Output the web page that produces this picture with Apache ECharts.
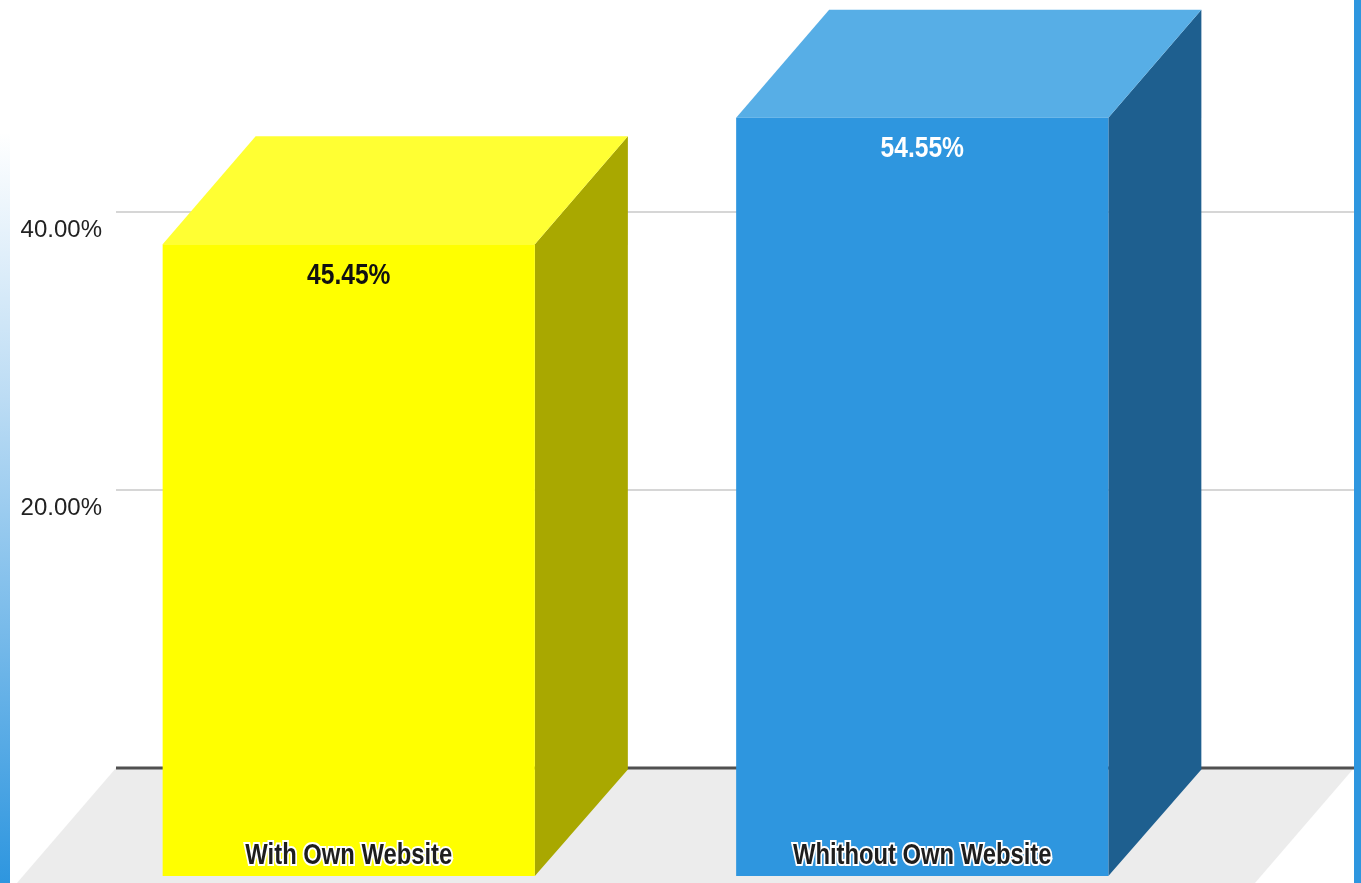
<!DOCTYPE html>
<html>
<head>
<meta charset="utf-8">
<title>Own website share</title>
<script src="https://cdn.jsdelivr.net/npm/echarts@6/dist/echarts.min.js"></script>
<style>
  html, body { margin: 0; padding: 0; background: #ffffff; }
  #chart { width: 1361px; height: 883px; }
</style>
</head>
<body>
<div id="chart"></div>
<script>
// Categories and their shares (percent)
const categories = ['With Own Website', 'Whithout Own Website'];
const shares = [45.45, 54.55];

// Value axis settings
const axisMin = 0;
const axisMax = 55;
const axisStep = 20;

// Face colours of each bar: front, top, side
const barColors = [
  { front: '#ffff00', top: '#ffff33', side: '#a9a800', label: '#111111' },
  { front: '#2e96df', top: '#57aee6', side: '#1e5f8f', label: '#ffffff' }
];

// Depth of the extruded bars (screen pixels): shift of the front face
const DEPTH_X = -93;
const DEPTH_Y = 108;
// Horizontal squeeze that gives the condensed lettering
const CONDENSE = 0.82;

const sans = "'Liberation Sans', Arial, sans-serif";

const chart = echarts.init(document.getElementById('chart'), null, { renderer: 'canvas' });

function fmtPct(v) { return v.toFixed(2) + '%'; }

// Floor of the back wall, extruded toward the viewer, plus the zero line along its back edge
function renderFloor(params, api) {
  const cs = params.coordSys;
  const yBase = api.coord([0, 0])[1];
  const k = 1.15;
  return {
    type: 'group',
    children: [
      {
        type: 'polygon',
        shape: {
          points: [
            [cs.x, yBase],
            [cs.x + cs.width, yBase],
            [cs.x + cs.width + DEPTH_X * k, yBase + DEPTH_Y * k],
            [cs.x + DEPTH_X * k, yBase + DEPTH_Y * k]
          ]
        },
        style: { fill: '#ececec' }
      },
      {
        type: 'line',
        shape: { x1: cs.x, y1: yBase, x2: cs.x + cs.width, y2: yBase },
        style: { stroke: '#505050', lineWidth: 3 }
      }
    ]
  };
}

// One extruded bar: back face sits on the axis plane, front face is shifted by the depth
function renderBar(params, api) {
  const idx = api.value(0);
  const val = api.value(1);
  const top = api.coord([idx, val]);
  const base = api.coord([idx, 0]);
  const w = api.size([1, 0])[0] * 0.649;
  const bx0 = top[0] - w / 2, bx1 = top[0] + w / 2;
  const by0 = top[1], by1 = base[1];
  const fx0 = bx0 + DEPTH_X, fx1 = bx1 + DEPTH_X;
  const fy0 = by0 + DEPTH_Y, fy1 = by1 + DEPTH_Y;
  const c = barColors[params.dataIndex];
  const fcx = (fx0 + fx1) / 2;
  return {
    type: 'group',
    children: [
      {
        type: 'polygon',
        shape: { points: [[fx1, fy0], [bx1, by0], [bx1, by1 + 1.5], [fx1, fy1]] },
        style: { fill: c.side }
      },
      {
        type: 'polygon',
        shape: { points: [[fx0, fy0], [fx1, fy0], [bx1, by0], [bx0, by0]] },
        style: { fill: c.top }
      },
      {
        type: 'rect',
        shape: { x: fx0, y: fy0, width: fx1 - fx0, height: fy1 - fy0 },
        style: { fill: c.front }
      },
      {
        type: 'text',
        x: fcx, y: fy0 + 31,
        scaleX: CONDENSE,
        style: {
          text: fmtPct(val),
          fill: c.label,
          font: 'bold 30px ' + sans,
          align: 'center',
          verticalAlign: 'middle'
        }
      },
      {
        type: 'text',
        x: fcx, y: fy1 - 20,
        scaleX: CONDENSE,
        style: {
          text: categories[idx],
          fill: '#1e1e1e',
          font: 'bold 29px ' + sans,
          align: 'center',
          verticalAlign: 'middle',
          stroke: '#ffffff',
          lineWidth: 4,
          shadowColor: 'rgba(255,255,255,0.9)',
          shadowBlur: 5
        }
      }
    ]
  };
}

const option = {
  animation: false,
  backgroundColor: '#ffffff',
  graphic: [
    {
      type: 'rect',
      left: 0, top: 0,
      shape: { width: 10, height: 883 },
      style: {
        fill: new echarts.graphic.LinearGradient(0, 0, 0, 1, [
          { offset: 0, color: '#ffffff' },
          { offset: 0.15, color: '#ffffff' },
          { offset: 0.45, color: '#bcdcf4' },
          { offset: 1, color: '#2e96df' }
        ])
      },
      z: 10
    },
    {
      type: 'rect',
      right: 0, top: 0,
      shape: { width: 7, height: 883 },
      style: { fill: '#2e96df' },
      z: 10
    }
  ],
  grid: [
    // back wall with value gridlines
    { left: 116, right: 7, top: 3.5, bottom: 115, containLabel: false },
    // bar layout across the wall
    { left: 155, right: 59, top: 3.5, bottom: 115, containLabel: false }
  ],
  xAxis: [
    {
      gridIndex: 0, type: 'category', data: categories,
      axisLine: { show: false }, axisTick: { show: false },
      axisLabel: { show: false }, splitLine: { show: false }
    },
    {
      gridIndex: 1, type: 'category', data: categories, show: false
    }
  ],
  yAxis: [
    {
      gridIndex: 0, type: 'value', min: axisMin, max: axisMax, interval: axisStep,
      axisLine: { show: false }, axisTick: { show: false },
      axisLabel: {
        margin: 14,
        color: '#222222',
        fontFamily: sans,
        fontSize: 24,
        verticalAlign: 'top',
        lineHeight: 36,
        showMaxLabel: false,
        formatter: function (v) { return v === 0 || v % axisStep !== 0 ? '' : fmtPct(v); }
      },
      splitLine: { show: true, showMaxLine: false, lineStyle: { color: '#d6d6d6', width: 2 } }
    },
    {
      gridIndex: 1, type: 'value', min: axisMin, max: axisMax, interval: axisStep, show: false
    }
  ],
  series: [
    {
      type: 'custom',
      xAxisIndex: 0, yAxisIndex: 0,
      renderItem: renderFloor,
      data: [[0, 0]],
      z: 1,
      silent: true
    },
    {
      type: 'custom',
      xAxisIndex: 1, yAxisIndex: 1,
      renderItem: renderBar,
      data: shares.map(function (v, i) { return [i, v]; }),
      z: 5,
      clip: false
    }
  ]
};

chart.setOption(option);
</script>
</body>
</html>
